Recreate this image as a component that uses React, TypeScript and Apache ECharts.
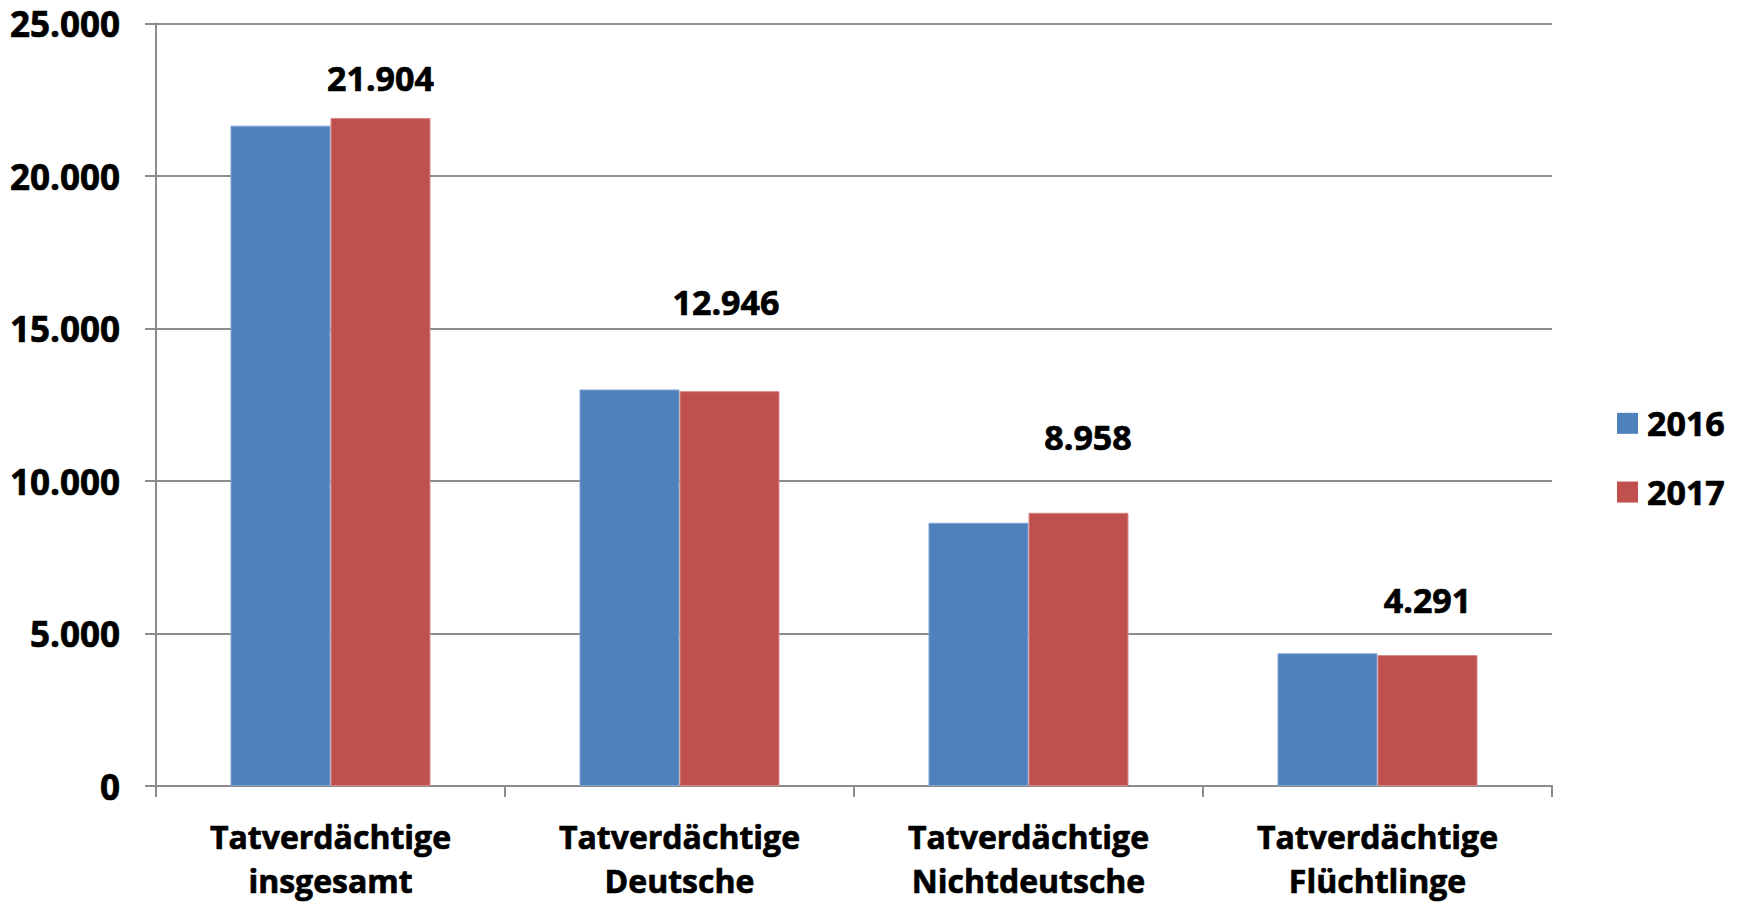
import React, { useEffect, useRef } from "react";
import * as echarts from "echarts";

const categories = [
  "Tatverdächtige\ninsgesamt",
  "Tatverdächtige\nDeutsche",
  "Tatverdächtige\nNichtdeutsche",
  "Tatverdächtige\nFlüchtlinge",
];
const seriesNames = ["2016", "2017"];
const values2016 = [21650, 13000, 8630, 4350];
const values2017 = [21904, 12946, 8958, 4291];
const yTicks = { min: 0, max: 25000, interval: 5000 };
// value-label placement of the 2017 bars (px): lift above bar top, horizontal shift
const labelLift = [22.5, 72, 59, 38];
const labelShiftX = [0, -3.5, 9.5, 0];

const FONT = "'Open Sans', 'Noto Sans', sans-serif";
const AXIS_GRAY = "#8c8c8c";
const heavy = { textBorderColor: "#000", textBorderWidth: 0.7 };

const fmt = (v: number) => {
  const s = Math.round(v).toString();
  return s.replace(/\B(?=(\d{3})+(?!\d))/g, ".");
};

export default function App() {
  const ref = useRef<HTMLDivElement>(null);
  useEffect(() => {
    if (!ref.current) return;
    const chart = echarts.init(ref.current, null, { renderer: "svg" });
    chart.setOption({
      animation: false,
      backgroundColor: "#ffffff",
      textStyle: { fontFamily: FONT },
      grid: { left: 156, right: 192, top: 23.5, bottom: 118, containLabel: false },
      legend: {
        orient: "vertical",
        left: 1612,
        top: 401,
        itemWidth: 21,
        itemHeight: 21,
        itemGap: 34,
        icon: "rect",
        data: seriesNames,
        itemStyle: { borderWidth: 0 },
        textStyle: {
          fontFamily: FONT,
          fontSize: 34,
          fontWeight: "bold",
          color: "#000",
          padding: [0, 0, 0, 4],
          ...heavy,
        },
      },
      xAxis: {
        type: "category",
        data: categories,
        axisLine: { show: true, lineStyle: { color: AXIS_GRAY, width: 2 } },
        axisTick: { show: true, length: 11, lineStyle: { color: AXIS_GRAY, width: 2 } },
        axisLabel: {
          interval: 0,
          margin: 28,
          fontFamily: FONT,
          fontSize: 32,
          fontWeight: "bold",
          color: "#000",
          lineHeight: 44,
          ...heavy,
        },
      },
      yAxis: {
        type: "value",
        min: yTicks.min,
        max: yTicks.max,
        interval: yTicks.interval,
        axisLine: { show: true, lineStyle: { color: AXIS_GRAY, width: 2 } },
        axisTick: { show: true, length: 11, lineStyle: { color: AXIS_GRAY, width: 2 } },
        splitLine: { show: true, lineStyle: { color: AXIS_GRAY, width: 2 } },
        axisLabel: {
          margin: 36,
          fontFamily: FONT,
          fontSize: 35,
          fontWeight: "bold",
          color: "#000",
          formatter: (v: number) => fmt(v),
          ...heavy,
        },
      },
      series: [
        {
          name: seriesNames[0],
          type: "bar",
          data: values2016,
          barGap: "0%",
          barCategoryGap: "42.7%",
          itemStyle: { color: "#4F81BD", borderColor: "#7fa3d3", borderWidth: 1 },
        },
        {
          name: seriesNames[1],
          type: "bar",
          barGap: "0%",
          barCategoryGap: "42.7%",
          itemStyle: { color: "#C0504D", borderColor: "#d58a88", borderWidth: 1 },
          data: values2017.map((v, i) => ({
            value: v,
            label: { distance: labelLift[i], offset: [labelShiftX[i], 0] },
          })),
          label: {
            show: true,
            position: "top",
            fontFamily: FONT,
            fontSize: 34,
            fontWeight: "bold",
            color: "#000",
            lineHeight: 34,
            formatter: (p: any) => fmt(p.value),
            ...heavy,
          },
        },
      ],
    });
    return () => chart.dispose();
  }, []);
  return (
    <div
      ref={ref}
      style={{ position: "fixed", left: 0, top: 0, width: "1744px", height: "904px" }}
    />
  );
}
